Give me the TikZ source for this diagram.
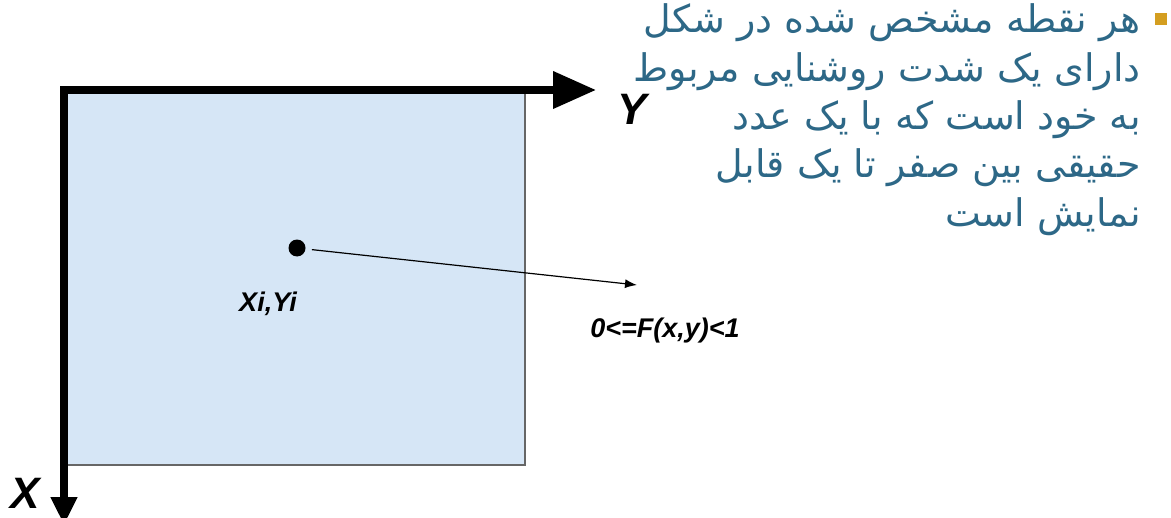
\documentclass[tikz,border=0pt]{standalone}
\usepackage{fontspec}
\setmainfont{Liberation Sans}
\newfontfamily\farsifont[Script=Arabic]{DejaVu Sans}
\TeXXeTstate=1
\usetikzlibrary{arrows.meta}
\definecolor{txtblue}{RGB}{45,104,135}
\definecolor{bulletgold}{RGB}{212,158,32}
\definecolor{planefill}{RGB}{214,230,246}
\tikzset{
  axis/.style={line width=3.6pt, line join=miter},
  plane/.style={fill=planefill, draw=black!60, line width=0.6pt},
  axlbl/.style={font=\fontsize{22}{26}\selectfont\bfseries\itshape},
  ptlbl/.style={font=\fontsize{13.5}{16}\selectfont\bfseries\itshape},
  fatxt/.style={anchor=base east, text=txtblue, inner sep=0pt,
    font=\farsifont\fontsize{19}{23}\selectfont},
  dotnode/.style={circle, fill=black, inner sep=0pt, minimum size=8.5pt},
  bulletbox/.style={fill=bulletgold, inner sep=0pt, minimum size=6pt},
  }

\begin{document}
\begin{tikzpicture}[x=0.5pt,y=-0.5pt]
  \useasboundingbox (0,0) rectangle (1171,518);

  % image plane
  \draw[plane] (67,93) rectangle (525,465);

  % axes
  \coordinate (org) at (64,90);
  \coordinate (ytip) at (596,90);
  \coordinate (xtip) at (64,525);
  \draw[axis,{Triangle[length=14pt,width=12.5pt]}-{Triangle[length=21.5pt,width=18pt]}]
    (xtip) -- (org) -- (ytip);
  \node[axlbl] (ylbl) at (632,109) {Y};
  \node[axlbl] (xlbl) at (25,493) {X};

  % point and its value
  \node[dotnode] (pt) at (297,248) {};
  \coordinate (val) at (637,285);
  \draw[line width=0.6pt,shorten <=3pt,-{Latex[length=6pt,width=4.5pt]}] (pt) -- (val);
  \node[ptlbl] (ptname) at (268,304) {Xi,Yi};
  \node[ptlbl] (fval) at (665,331) {0<=F(x,y)<1};

  % bullet text
  \node[bulletbox] (blt) at (1161,19) {};
  \node[fatxt] (l1) at (1141,33)  {\beginR هر نقطه مشخص شده در شکل\endR};
  \node[fatxt] (l2) at (1141,82)  {\beginR دارای یک شدت روشنایی مربوط\endR};
  \node[fatxt] (l3) at (1141,130) {\beginR به خود است که با یک عدد\endR};
  \node[fatxt] (l4) at (1141,178) {\beginR حقیقی بین صفر تا یک قابل\endR};
  \node[fatxt] (l5) at (1141,227) {\beginR نمایش است\endR};
\end{tikzpicture}
\end{document}
